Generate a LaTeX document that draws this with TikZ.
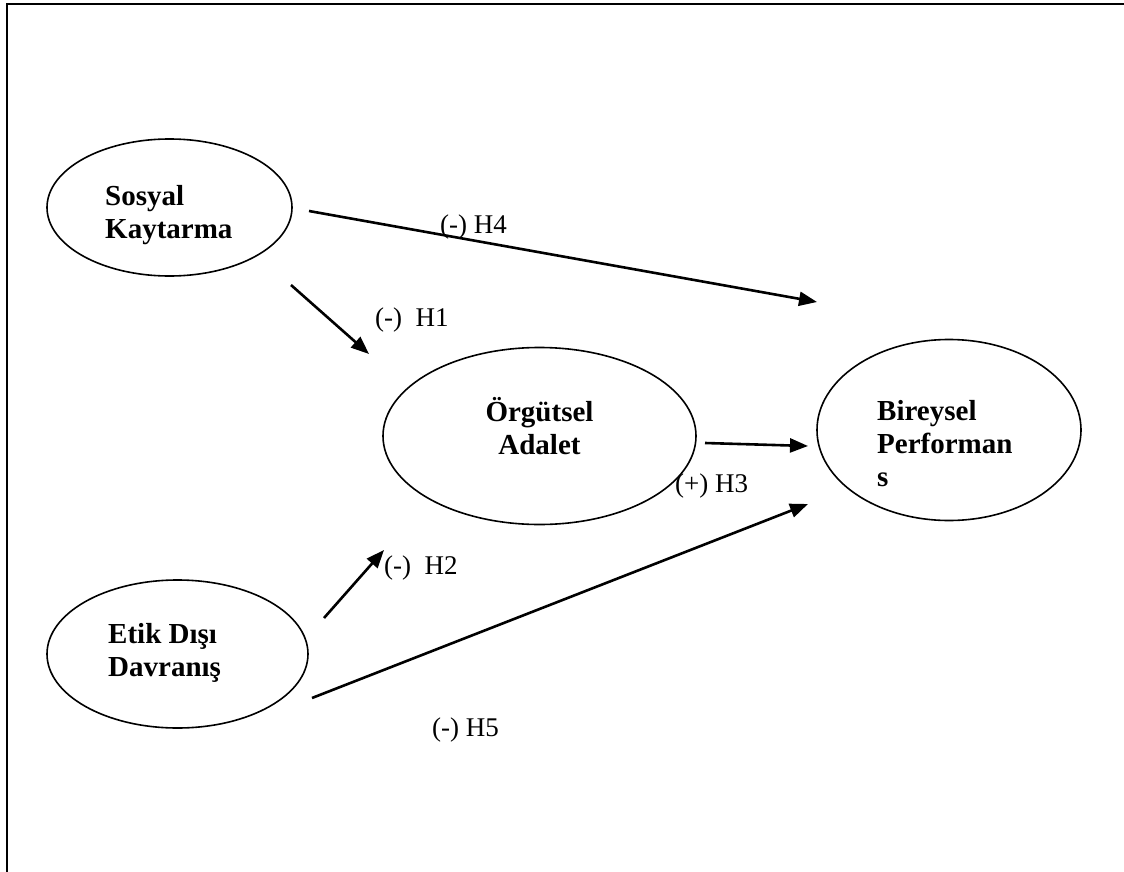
\documentclass[tikz,border=0pt]{standalone}
\usepackage{fontspec}
\setmainfont{Liberation Serif}
\usetikzlibrary{shapes.geometric,arrows.meta}
\begin{document}
\begin{tikzpicture}[x=1pt,y=-1pt,
  construct/.style={ellipse,draw,line width=1.6pt,inner sep=0pt},
  ctext/.style={inner sep=0pt,font=\fontsize{29}{33}\selectfont\bfseries},
  hlabel/.style={inner sep=0pt,anchor=base west,font=\fontsize{27}{31}\selectfont},
  path/.style={line width=2.6pt,-{Triangle[length=18pt,width=14pt]}}]
\useasboundingbox (0,0) rectangle (1124,872);
% open frame: top and left edges only
\draw[line width=2.3pt] (7,872) -- (7,4.3) -- (1124,4.3);

% constructs
\node[construct,minimum width=245pt,minimum height=137pt] (sk) at (169.5,207.5) {};
\node[construct,minimum width=313pt,minimum height=177pt] (oa) at (539.5,436) {};
\node[construct,minimum width=264pt,minimum height=181pt] (bp) at (949,430) {};
\node[construct,minimum width=261pt,minimum height=148pt] (ed) at (177.5,654) {};

% construct names
\node[ctext,anchor=base west] (sktxt) at (105,205)
  {\begin{tabular}[t]{@{}l@{}}Sosyal\\Kaytarma\end{tabular}};
\node[ctext,anchor=base] (oatxt) at (539.5,421)
  {\begin{tabular}[t]{@{}c@{}}Örgütsel\\Adalet\end{tabular}};
\begin{scope}
  \clip (860,380) rectangle (1060,486);
  \node[ctext,anchor=base west] (bptxt) at (877,420)
    {\begin{tabular}[t]{@{}l@{}}Bireysel\\Performan\\s\end{tabular}};
\end{scope}
\node[ctext,anchor=base west] (edtxt) at (108,643)
  {\begin{tabular}[t]{@{}l@{}}Etik Dışı\\Davranış\end{tabular}};

% arrow end points
\coordinate (h1s) at (291,285);  \coordinate (h1e) at (369,354);
\coordinate (h2s) at (324,618);  \coordinate (h2e) at (384,550);
\coordinate (h3s) at (705,443);  \coordinate (h3e) at (808,446);
\coordinate (h4s) at (309,211);  \coordinate (h4e) at (817,302);
\coordinate (h5s) at (312,698);  \coordinate (h5e) at (808,504);

\draw[path] (h1s) -- (h1e);
\draw[path] (h2s) -- (h2e);
\draw[path] (h3s) -- (h3e);
\draw[path] (h4s) -- (h4e);
\draw[path] (h5s) -- (h5e);

% hypothesis labels
\node[hlabel] (l4) at (440,233) {(-) H4};
\node[hlabel] (l1) at (375,326) {(-)\ \ H1};
\node[hlabel] (l3) at (675,492) {(+) H3};
\node[hlabel] (l2) at (384,574) {(-)\ \ H2};
\node[hlabel] (l5) at (432,736) {(-) H5};
\end{tikzpicture}
\end{document}
